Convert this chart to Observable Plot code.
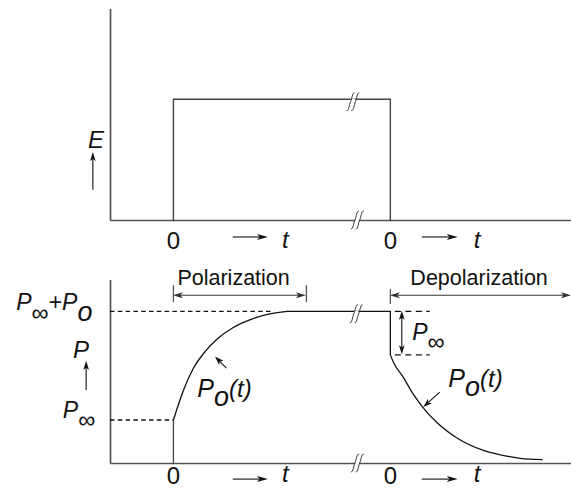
<!DOCTYPE html>
<html>
<head>
<meta charset="utf-8">
<script src="https://cdn.jsdelivr.net/npm/d3@7"></script>
<script src="https://cdn.jsdelivr.net/npm/@observablehq/plot@0.6"></script>
<style>
  html, body { margin: 0; padding: 0; background: #fff; }
  #chart svg { display: block; }
</style>
</head>
<body>
<div id="chart"></div>
<script>
// ---- time axis: field switched on at t = 0, switched off at t = offT (axis broken in between)
const offT = 10;
const tAxis = [-2.9, 18.35];
const breakT = 8.3;        // break marks on the upper levels
const breakAxisT = 8.5;    // break marks on the time axis

// ---- applied field E(t)
const E0 = 1;
const eMax = 1.74;
const fieldT = [0, 0, offT, offT];
const fieldE = [0, E0, E0, 0];

// ---- polarization levels
const Pinf = 1;
const Po = 2.5;
const pMax = 4.21;

// charging: P(t) after switch-on
const riseT = [0, 0.46, 0.92, 1.47, 2.03, 2.76, 3.55, 4.33, 5.25];
const riseP = [1.0, 1.68, 2.19, 2.58, 2.87, 3.13, 3.31, 3.43, 3.5];

// discharge: P(t) after switch-off (time counted from offT)
const decayT = [0, 0.14, 0.6, 1.01, 1.47, 2.17, 3.09, 4.29, 5.07, 5.99, 7.0];
const decayP = [2.5, 2.33, 1.98, 1.63, 1.31, 0.93, 0.58, 0.30, 0.20, 0.12, 0.09];

// ---- tick labels
const zeroTicks = [0, offT];
const tLabelT = [5.16, 14.0];
const timeArrows = [[2.76, 4.38], [11.47, 13.13]];

const ink = "#111";
const gray = "#555";
const font = "Liberation Sans, Arial, Helvetica, sans-serif";

// labels with subscript pieces
const richLabels = {
  "P∞+Po": [["P", {italic: true}], ["∞", {size: 24, shift: 11}], ["+", {}], ["P", {italic: true}], ["o", {italic: true, size: 27, shift: 11}]],
  "P∞": [["P", {italic: true}], ["∞", {size: 24, shift: 10}]],
  "Po(t)": [["P", {italic: true}], ["o", {italic: true, size: 27, shift: 9}], ["(t)", {italic: true, size: 24}]]
};

function applyRich(svg) {
  for (const el of svg.querySelectorAll("text")) {
    const parts = richLabels[el.textContent];
    if (!parts) continue;
    el.textContent = "";
    let shift = 0;
    for (const [s, o] of parts) {
      const ts = document.createElementNS("http://www.w3.org/2000/svg", "tspan");
      const target = o.shift ?? 0;
      if (target !== shift) ts.setAttribute("dy", target - shift);
      shift = target;
      ts.setAttribute("font-style", o.italic ? "italic" : "normal");
      if (o.size) ts.setAttribute("font-size", o.size);
      ts.textContent = s;
      el.appendChild(ts);
    }
  }
  return svg;
}

// arrows with filled, slightly notched heads; positions go through Plot's scales
function arrowMark(specs, {len = 9, half = 3, notch = 2.2, stroke = ink, strokeWidth = 1.1} = {}) {
  return (index, {x, y}) => {
    const g = d3.create("svg:g").attr("fill", stroke).attr("stroke", "none");
    for (const a of specs) {
      const x1 = x(a.x1), y1 = y(a.y1), x2 = x(a.x2), y2 = y(a.y2);
      const L = Math.hypot(x2 - x1, y2 - y1), ux = (x2 - x1) / L, uy = (y2 - y1) / L;
      const cut = len - notch;
      const sx = a.both ? x1 + ux * cut : x1, sy = a.both ? y1 + uy * cut : y1;
      g.append("line")
        .attr("x1", sx).attr("y1", sy)
        .attr("x2", x2 - ux * cut).attr("y2", y2 - uy * cut)
        .attr("stroke", stroke).attr("stroke-width", strokeWidth);
      const heads = [[x2, y2, Math.atan2(uy, ux)]];
      if (a.both) heads.push([x1, y1, Math.atan2(-uy, -ux)]);
      for (const [hx, hy, ang] of heads) {
        g.append("path")
          .attr("d", `M0,0L${-len},${-half}L${-len + notch},0L${-len},${half}Z`)
          .attr("transform", `translate(${hx},${hy}) rotate(${ang * 180 / Math.PI})`);
      }
    }
    return g.node();
  };
}

// axis-break symbol: two slanted S strokes across a line
function breakMark(specs) {
  return (index, {x, y}) => {
    const g = d3.create("svg:g").attr("fill", "none").attr("stroke", "#333").attr("stroke-width", 1);
    const s = "M-4,9C-1.5,9 -1.5,3 0,0S1.5,-9 4,-9";
    for (const b of specs) {
      const cx = x(b.x), cy = y(b.y) + (b.dy ?? 0);
      g.append("path").attr("fill", "#fff").attr("stroke", "none")
        .attr("d", `M${cx - 2.2},${cy - 3}h4.4v6h-4.4Z`);
      for (const off of [-2.4, 2.4]) {
        g.append("path").attr("d", s).attr("transform", `translate(${cx + off},${cy})`);
      }
    }
    return g.node();
  };
}

const W = 571;
const xScale = {domain: tAxis, axis: null, label: null};
const style = {fontFamily: font, color: ink, background: "#fff", overflow: "visible"};
const zeroAxis = (pad) => Plot.axisX(zeroTicks, {tickFormat: () => "0", tickSize: 0, tickPadding: pad, fontSize: 24, anchor: "bottom", label: null});

function frame(yMax) {
  return [
    Plot.ruleY([0], {x1: tAxis[0], x2: tAxis[1], stroke: gray, strokeWidth: 1.7}),
    Plot.ruleX([tAxis[0]], {y1: 0, y2: yMax, stroke: gray, strokeWidth: 1.7})
  ];
}

// ---------------- field panel
const fieldRows = fieldT.map((t, i) => ({t, e: fieldE[i]}));
const topPlot = Plot.plot({
  width: W, height: 250,
  marginLeft: 110, marginRight: 0, marginTop: 9, marginBottom: 30,
  x: xScale,
  y: {domain: [0, eMax], axis: null},
  style,
  marks: [
    ...frame(eMax),
    Plot.line(fieldRows, {x: "t", y: "e", stroke: "#444", strokeWidth: 1.4}),
    breakMark([{x: breakT, y: E0, dy: 3}, {x: breakAxisT, y: 0, dy: 0}]),
    zeroAxis(11),
    Plot.text(tLabelT, {x: d => d, y: -0.223, text: () => "t", fontStyle: "italic", fontSize: 24, lineAnchor: "bottom"}),
    arrowMark(timeArrows.map(([a, b]) => ({x1: a, y1: -0.14, x2: b, y2: -0.14})), {len: 11, half: 3, notch: 2.8}),
    arrowMark([{x1: -3.69, y1: 0.25, x2: -3.69, y2: 0.56}], {len: 9, half: 2.8, notch: 2.2}),
    Plot.text(["E"], {x: -3.57, y: 0.594, text: d => d, fontStyle: "italic", fontSize: 24, lineAnchor: "bottom"})
  ]
});

// ---------------- polarization panel
const rise = riseT.map((t, i) => ({t, p: riseP[i]}));
const decay = decayT.map((t, i) => ({t: offT + t, p: decayP[i]}));
const bottomPlot = Plot.plot({
  width: W, height: 244,
  marginLeft: 110, marginRight: 0, marginTop: 30, marginBottom: 31,
  x: xScale,
  y: {domain: [0, pMax], axis: null},
  style,
  marks: [
    ...frame(pMax),
    // reference levels
    Plot.ruleY([{y: Pinf, x2: 0}, {y: Pinf + Po, x2: 4.5}], {y: "y", x1: tAxis[0], x2: "x2", stroke: ink, strokeWidth: 1.4, strokeDasharray: "4.5,3.3"}),
    Plot.ruleY([Pinf + Po, Po], {x1: offT + 0.23, x2: offT + 1.84, stroke: ink, strokeWidth: 1.4, strokeDasharray: "6,4.5"}),
    // response
    Plot.line([{t: 0, p: 0}, {t: 0, p: Pinf}], {x: "t", y: "p", stroke: "#444", strokeWidth: 1.3}),
    Plot.line(rise, {x: "t", y: "p", curve: "monotone-x", stroke: ink, strokeWidth: 1.3}),
    Plot.line([{t: riseT[riseT.length - 1], p: Pinf + Po}, {t: offT, p: Pinf + Po}, {t: offT, p: Po}], {x: "t", y: "p", stroke: ink, strokeWidth: 1.3}),
    Plot.line(decay, {x: "t", y: "p", curve: "monotone-x", stroke: ink, strokeWidth: 1.3}),
    breakMark([{x: breakT + 0.15, y: Pinf + Po, dy: 3}, {x: breakAxisT, y: 0, dy: 0}]),
    // phase brackets
    Plot.ruleX([{t: 0, a: 3.70, b: 4.09}, {t: 6.13, a: 3.70, b: 4.09}, {t: offT, a: 3.66, b: 4.0}], {x: "t", y1: "a", y2: "b", stroke: gray, strokeWidth: 1.3}),
    arrowMark([
      {x1: 0, y1: 3.86, x2: 6.13, y2: 3.86, both: true},
      {x1: offT, y1: 3.86, x2: tAxis[1], y2: 3.86, both: true}
    ], {len: 10, half: 3, notch: 2.5, stroke: "#333"}),
    Plot.text(["Polarization"], {x: 0, y: 4.09, dx: 4, dy: -1, text: d => d, fontSize: 21.5, textAnchor: "start", lineAnchor: "bottom"}),
    Plot.text(["Depolarization"], {x: offT, y: 4.09, dx: 20, dy: -1, text: d => d, fontSize: 21.5, textAnchor: "start", lineAnchor: "bottom"}),
    // P∞ step at switch-off
    arrowMark([{x1: offT + 0.55, y1: Pinf + Po, x2: offT + 0.55, y2: Po, both: true}], {len: 9, half: 2.8, notch: 2.2}),
    // curve pointers
    arrowMark([
      {x1: 2.47, y1: 2.18, x2: 1.94, y2: 2.45},
      {x1: offT + 2.3, y1: 1.63, x2: offT + 1.54, y2: 1.29}
    ], {len: 9, half: 3, notch: 2.2}),
    // axis annotations
    zeroAxis(3),
    Plot.text(tLabelT, {x: d => d, y: -0.437, text: () => "t", fontStyle: "italic", fontSize: 24, lineAnchor: "bottom"}),
    arrowMark(timeArrows.map(([a, b]) => ({x1: a, y1: -0.37, x2: b, y2: -0.37})), {len: 11, half: 3, notch: 2.8}),
    arrowMark([{x1: -4.0, y1: 1.68, x2: -4.0, y2: 2.35}], {len: 9, half: 2.8, notch: 2.2}),
    Plot.text(["P"], {x: -4.26, y: 2.42, text: d => d, fontStyle: "italic", fontSize: 24, lineAnchor: "bottom"}),
    Plot.text(["P∞+Po"], {x: -3.73, y: 3.52, text: d => d, fontSize: 23, textAnchor: "end", lineAnchor: "bottom"}),
    Plot.text(["P∞"], {x: -3.6, y: 1.04, text: d => d, fontSize: 23, textAnchor: "end", lineAnchor: "bottom"}),
    Plot.text(["P∞"], {x: offT + 1.01, y: 2.83, text: d => d, fontSize: 23, textAnchor: "start", lineAnchor: "bottom"}),
    Plot.text(["Po(t)"], {x: 1.1, y: 1.52, text: d => d, fontSize: 25, textAnchor: "start", lineAnchor: "bottom"}),
    Plot.text(["Po(t)"], {x: offT + 2.67, y: 1.77, text: d => d, fontSize: 25, textAnchor: "start", lineAnchor: "bottom"})
  ]
});

const chart = document.getElementById("chart");
chart.append(applyRich(topPlot), applyRich(bottomPlot));
</script>
</body>
</html>
